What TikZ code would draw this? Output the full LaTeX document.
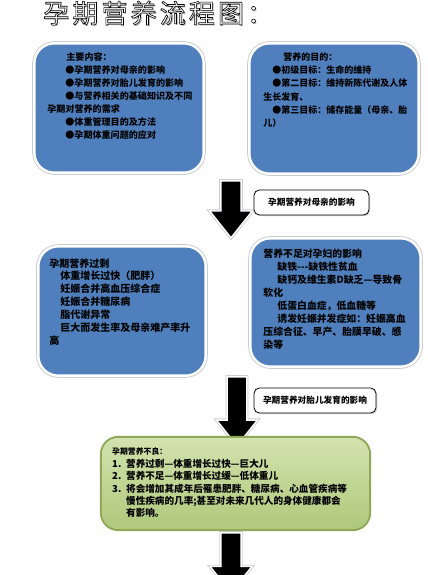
\documentclass[tikz,border=0pt]{standalone}
\usepackage{fontspec}
\setmainfont{Noto Sans CJK SC}
\newfontfamily\titlefont{Noto Sans CJK SC}[LetterSpace=12]
\usepackage{tikz}
\usetikzlibrary{shapes.arrows,calc,shadows}
\definecolor{clTopic}{HTML}{4F80BD}
\definecolor{clRim}{HTML}{C9CCD1}
\definecolor{clGreenTop}{HTML}{D2E3AF}
\definecolor{clGreenBot}{HTML}{AFC87A}
\definecolor{clGreenLine}{HTML}{8FA958}
\newcommand{\hollowtext}[1]{\special{pdf:literal direct 2 Tr 0.45 w 1 g}#1\special{pdf:literal direct 0 Tr 0 g}}
\tikzset{
  topic/.style={rectangle, rounded corners=15pt, fill=clTopic, inner sep=0pt,
                preaction={draw=clRim, line width=3.2pt}, draw=white, line width=1.8pt},
  summary/.style={rectangle, rounded corners=13pt, top color=clGreenTop, bottom color=clGreenBot,
                  draw=clGreenLine, line width=1.4pt, inner sep=0pt},
  tag/.style={rectangle, rounded corners=4pt, draw=black, line width=0.6pt, fill=white,
              drop shadow={shadow xshift=0.9pt, shadow yshift=-0.9pt, fill=black!35},
              inner sep=0pt, font=\bfseries\fontsize{6.5pt}{8pt}\selectfont},
  note/.style={anchor=north west, inner sep=0pt, align=left},
  blockarrow/.style={single arrow, shape border rotate=270, fill=black, inner sep=6pt,
                     single arrow head indent=0pt, single arrow tip angle=77,
                     preaction={draw=clRim, line width=2.4pt}, draw=white, line width=1.1pt},
  titletext/.style={anchor=west, inner sep=0pt, font=\titlefont\fontsize{19.5pt}{21pt}\selectfont},
}

\begin{document}
\begin{tikzpicture}[x=0.75pt, y=-0.75pt]
  \useasboundingbox (0,0) rectangle (428,575);
  % title
  \node[titletext, text=black!30] (titleShade) at (44.5,14.5) {孕期营养流程图：};
  \node[titletext] (title) at (43,13) {\hollowtext{孕期营养流程图：}};
  % block arrows
  \node[blockarrow, anchor=tip, minimum height=42.75pt, minimum width=32pt] (arrowMother) at (231,239) {};
  \node[blockarrow, anchor=tip, minimum height=51.75pt, minimum width=30.75pt] (arrowFetus) at (237,447) {};
  \node[blockarrow, anchor=tip, minimum height=45pt, minimum width=31.5pt] (arrowNext) at (231,594) {};
  % boxes
  \node[topic, minimum width=127pt, minimum height=97pt] (content) at (119,108) {};
  \node[topic, minimum width=127pt, minimum height=97.75pt] (aims) at (334,108.5) {};
  \node[topic, minimum width=125.5pt, minimum height=97pt] (excess) at (122,311) {};
  \node[topic, minimum width=127.75pt, minimum height=96.25pt] (shortage) at (335.5,302.5) {};
  \node[summary, minimum width=202pt, minimum height=70pt] (result) at (235.5,483.5) {};
  \node[tag, minimum width=86.25pt, minimum height=18.75pt] (tagMother) at (311.5,202.5) {孕期营养对母亲的影响};
  \node[tag, minimum width=91.5pt, minimum height=18.75pt] (tagFetus) at (315,400.5) {孕期营养对胎儿发育的影响};
  % box texts
  \node[note, font=\bfseries\fontsize{6.8pt}{9.75pt}\selectfont] (contentText) at ($(content.north west)+(14,10)$)
    {\hspace*{14.25pt}主要内容：\\
     \hspace*{13.5pt}●孕期营养对母亲的影响\\
     \hspace*{13.5pt}●孕期营养对胎儿发育的影响\\
     \hspace*{13.5pt}●与营养相关的基础知识及不同\\
     孕期对营养的需求\\
     \hspace*{13.5pt}●体重管理目的及方法\\
     \hspace*{13.5pt}●孕期体重问题的应对};
  \node[note, font=\bfseries\fontsize{6.75pt}{10pt}\selectfont] (aimsText) at ($(aims.north west)+(15,10)$)
    {\hspace*{15pt}营养的目的：\\
     \hspace*{6.75pt}●初级目标：生命的维持\\
     \hspace*{6.75pt}●第二目标：维持新陈代谢及人体\\
     生长发育、\\
     \hspace*{6.75pt}●第三目标：储存能量（母亲、胎\\
     儿）};
  \node[note, font=\bfseries\fontsize{7.5pt}{9.7pt}\selectfont] (excessText) at ($(excess.north west)+(12,13)$)
    {孕期营养过剩\\
     \hspace*{8.25pt}体重增长过快（肥胖）\\
     \hspace*{8.25pt}妊娠合并高血压综合症\\
     \hspace*{8.25pt}妊娠合并糖尿病\\
     \hspace*{8.25pt}脂代谢异常\\
     \hspace*{8.25pt}巨大而发生率及母亲难产率升\\
     高};
  \node[note, font=\bfseries\fontsize{7.4pt}{9.75pt}\selectfont] (shortageText) at ($(shortage.north west)+(14,12)$)
    {营养不足对孕妇的影响\\
     \hspace*{10.5pt}缺铁-{}-{}-缺铁性贫血\\
     \hspace*{10.5pt}缺钙及维生素D缺乏—导致骨\\
     软化\\
     \hspace*{10.5pt}低蛋白血症，低血糖等\\
     \hspace*{10.5pt}诱发妊娠并发症如：妊娠高血\\
     压综合征、早产、胎膜早破、感\\
     染等};
  \node[note, font=\bfseries\fontsize{7.2pt}{9.3pt}\selectfont] (resultText) at ($(result.north west)+(12,12)$)
    {{\fontsize{5.9pt}{9.3pt}\selectfont 孕期营养不良：}\\
     \makebox[10.5pt][l]{1.}营养过剩—体重增长过快—巨大儿\\
     \makebox[10.5pt][l]{2.}营养不足—体重增长过缓—低体重儿\\
     \makebox[10.5pt][l]{3.}将会增加其成年后罹患肥胖、糖尿病、心血管疾病等\\
     \hspace*{10.5pt}慢性疾病的几率;甚至对未来几代人的身体健康都会\\
     \hspace*{10.5pt}有影响。};
\end{tikzpicture}
\end{document}
